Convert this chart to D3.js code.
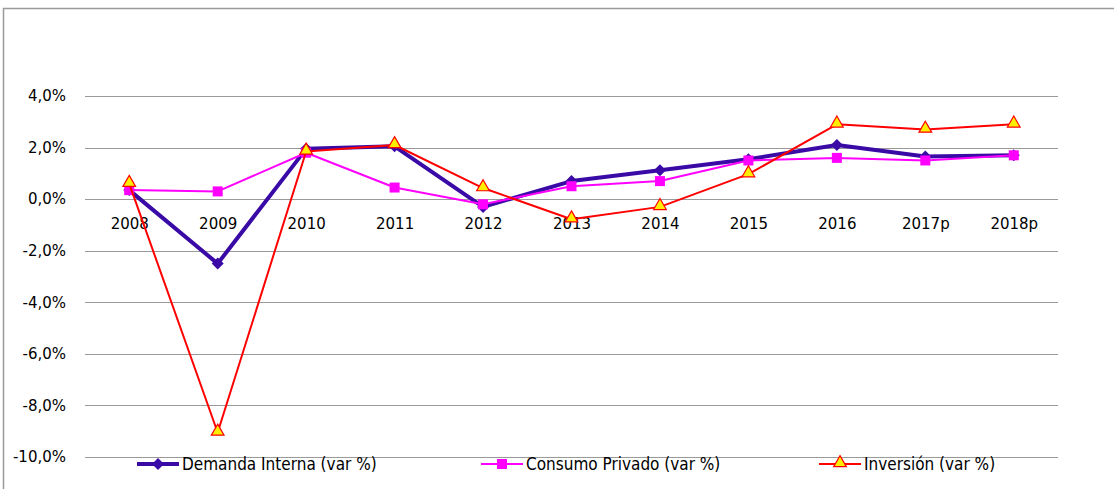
<!DOCTYPE html>
<html>
<head>
<meta charset="utf-8">
<script src="https://cdn.jsdelivr.net/npm/d3@7"></script>
<style>
  body { margin: 0; background: #fff; }
  svg { display: block; }
  .axis text { font-family: "DejaVu Sans", Verdana, sans-serif; font-size: 15px; fill: #000; }
  .legend text { font-family: "DejaVu Sans Condensed", "DejaVu Sans", sans-serif; font-size: 17px; fill: #000; }
</style>
</head>
<body>
<svg id="chart" width="1114" height="489"></svg>
<script>
let years = ['2008', '2009', '2010', '2011', '2012', '2013', '2014', '2015', '2016', '2017p', '2018p']
let demanda = [0.35, -2.5, 1.95, 2.05, -0.3, 0.7, 1.12, 1.55, 2.1, 1.65, 1.7]
let consumo = [0.35, 0.3, 1.8, 0.45, -0.2, 0.5, 0.7, 1.5, 1.6, 1.5, 1.7]
let inversion = [0.6, -9.05, 1.85, 2.1, 0.43, -0.78, -0.3, 0.97, 2.9, 2.7, 2.9]
let yTicks = [4, 2, 0, -2, -4, -6, -8, -10]
let seriesNames = ['Demanda Interna (var %)', 'Consumo Privado (var %)', 'Inversión (var %)']

let svg = d3.select('#chart')

// outer frame (cut off at right and bottom)
svg.append('rect')
  .attr('x', 3.5).attr('y', 8.5)
  .attr('width', 1130).attr('height', 500)
  .attr('fill', 'none').attr('stroke', '#9a9a9a').attr('stroke-width', 1.5)

let x = d3.scalePoint().domain(years).range([85, 1058]).padding(0.5)
let y = d3.scaleLinear().domain([-10, 4]).range([457, 96])

let fmt = (d) => d.toFixed(1).replace('.', ',') + '%'

// gridlines
svg.append('g')
  .selectAll('line')
  .data(yTicks)
  .enter()
  .append('line')
  .attr('x1', 85).attr('x2', 1058)
  .attr('y1', (d) => Math.round(y(d)) + 0.5)
  .attr('y2', (d) => Math.round(y(d)) + 0.5)
  .attr('stroke', '#9a9a9a').attr('stroke-width', 1)

let yAxis = svg.append('g')
  .attr('class', 'axis')
  .attr('transform', 'translate(85,0)')
  .call(d3.axisLeft(y).tickValues(yTicks).tickFormat(fmt).tickSize(0).tickPadding(19))
yAxis.select('.domain').remove()

let xAxis = svg.append('g')
  .attr('class', 'axis')
  .attr('transform', 'translate(0,' + y(0) + ')')
  .call(d3.axisBottom(x).tickSize(0).tickPadding(19))
xAxis.select('.domain').remove()

let line = d3.line()
  .x((d, i) => x(years[i]))
  .y((d) => y(d))

let triangle = d3.symbol().type(d3.symbolTriangle).size(70)
let diamond = d3.symbol().type(d3.symbolSquare).size(72)

let drawSeries = (values, color, width) => {
  svg.append('path')
    .datum(values)
    .attr('d', line)
    .attr('fill', 'none')
    .attr('stroke', color)
    .attr('stroke-width', width)
    .attr('stroke-linejoin', 'round')
}

// Demanda Interna
drawSeries(demanda, '#3a0aa6', 4)
svg.append('g').selectAll('path')
  .data(demanda).enter().append('path')
  .attr('d', diamond)
  .attr('transform', (d, i) => 'translate(' + x(years[i]) + ',' + y(d) + ') rotate(45)')
  .attr('fill', '#3a0aa6')

// Consumo Privado
drawSeries(consumo, '#ff00ff', 2)
svg.append('g').selectAll('rect')
  .data(consumo).enter().append('rect')
  .attr('x', (d, i) => x(years[i]) - 5)
  .attr('y', (d) => y(d) - 5)
  .attr('width', 10).attr('height', 10)
  .attr('fill', '#ff00ff')

// Inversión
drawSeries(inversion, '#ff0000', 2)
svg.append('g').selectAll('path')
  .data(inversion).enter().append('path')
  .attr('d', triangle)
  .attr('transform', (d, i) => 'translate(' + x(years[i]) + ',' + (y(d) - 1) + ')')
  .attr('fill', '#ffee00')
  .attr('stroke', '#ff0000')
  .attr('stroke-width', 1.2)

// legend
let legendItems = [
  { name: seriesNames[0], color: '#3a0aa6', w: 4, marker: 'diamond', x0: 137 },
  { name: seriesNames[1], color: '#ff00ff', w: 2, marker: 'square', x0: 481 },
  { name: seriesNames[2], color: '#ff0000', w: 2, marker: 'triangle', x0: 819 }
]
let ly = 464
let legend = svg.append('g').attr('class', 'legend')
legendItems.forEach((item) => {
  let g = legend.append('g')
  g.append('line')
    .attr('x1', item.x0).attr('x2', item.x0 + 42)
    .attr('y1', ly).attr('y2', ly)
    .attr('stroke', item.color).attr('stroke-width', item.w)
  let cx = item.x0 + 21
  if (item.marker === 'diamond') {
    g.append('path').attr('d', diamond)
      .attr('transform', 'translate(' + cx + ',' + ly + ') rotate(45)').attr('fill', item.color)
  } else if (item.marker === 'square') {
    g.append('rect').attr('x', cx - 5).attr('y', ly - 5).attr('width', 10).attr('height', 10)
      .attr('fill', item.color)
  } else {
    g.append('path').attr('d', triangle)
      .attr('transform', 'translate(' + cx + ',' + (ly - 1) + ')')
      .attr('fill', '#ffee00').attr('stroke', item.color).attr('stroke-width', 1.2)
  }
  g.append('text')
    .attr('x', item.x0 + 45).attr('y', ly + 6)
    .text(item.name)
})
</script>
</body>
</html>
